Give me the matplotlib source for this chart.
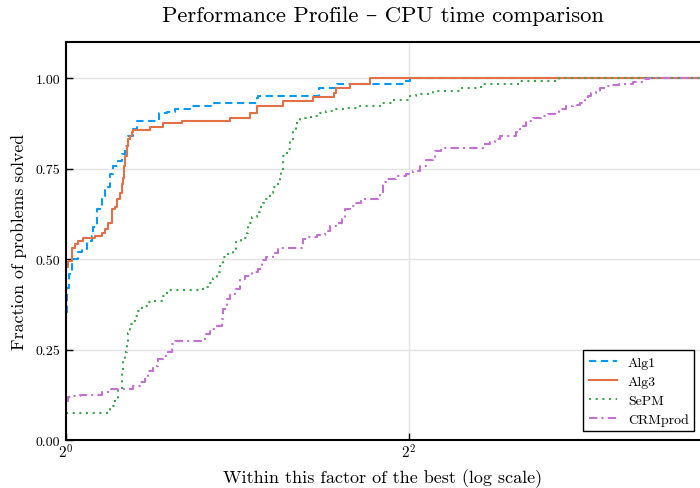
import matplotlib
matplotlib.use("Agg")
import matplotlib.pyplot as plt

plt.rcParams['font.family'] = ['cmr10', 'DejaVu Serif']
plt.rcParams['mathtext.fontset'] = 'cm'
plt.rcParams['axes.formatter.use_mathtext'] = True
plt.rcParams['axes.unicode_minus'] = False

# log2 of performance ratio (x) and fraction of problems solved (y)
alg1_x = [0.0, 0.008, 0.016, 0.033, 0.070, 0.092, 0.120, 0.150, 0.159, 0.178, 0.208, 0.227,
          0.257, 0.276, 0.305, 0.325, 0.344, 0.364, 0.393, 0.412, 0.540, 0.587, 0.636, 0.723,
          0.857, 1.114, 1.120, 1.475, 1.580, 1.977, 2.006]
alg1_y = [0.354, 0.420, 0.459, 0.500, 0.519, 0.527, 0.550, 0.565, 0.588, 0.638, 0.675, 0.699,
          0.735, 0.758, 0.772, 0.790, 0.813, 0.841, 0.859, 0.882, 0.905, 0.907, 0.916, 0.923,
          0.932, 0.945, 0.951, 0.974, 0.983, 0.993, 1.000]

alg3_x = [0.0, 0.013, 0.033, 0.052, 0.072, 0.101, 0.169, 0.208, 0.227, 0.247, 0.266, 0.286,
          0.296, 0.315, 0.325, 0.334, 0.338, 0.344, 0.354, 0.364, 0.374, 0.383, 0.393, 0.490,
          0.566, 0.676, 0.956, 1.073, 1.114, 1.266, 1.440, 1.563, 1.574, 1.656, 1.772]
alg3_y = [0.477, 0.495, 0.532, 0.541, 0.550, 0.557, 0.565, 0.573, 0.583, 0.601, 0.638, 0.643,
          0.666, 0.684, 0.707, 0.724, 0.758, 0.786, 0.813, 0.831, 0.841, 0.850, 0.857, 0.866,
          0.876, 0.882, 0.891, 0.905, 0.923, 0.937, 0.949, 0.960, 0.974, 0.983, 1.000]

sepm_x = [0.0, 0.257, 0.286, 0.305, 0.325, 0.334, 0.344, 0.354, 0.363, 0.373, 0.383, 0.402,
          0.422, 0.441, 0.471, 0.500, 0.558, 0.587, 0.595, 0.800, 0.830, 0.859, 0.879, 0.898,
          0.917, 0.946, 0.976, 0.995, 1.024, 1.054, 1.063, 1.083, 1.112, 1.131, 1.150, 1.170,
          1.190, 1.209, 1.229, 1.248, 1.254, 1.267, 1.287, 1.306, 1.325, 1.345, 1.364, 1.403,
          1.452, 1.481, 1.520, 1.578, 1.637, 1.714, 1.831, 1.907, 2.006, 2.045, 2.142, 2.307,
          2.424, 2.647, 2.880]
sepm_y = [0.076, 0.095, 0.113, 0.141, 0.187, 0.215, 0.242, 0.270, 0.297, 0.320, 0.330, 0.343,
          0.357, 0.371, 0.382, 0.385, 0.399, 0.415, 0.415, 0.424, 0.435, 0.449, 0.463, 0.481,
          0.507, 0.514, 0.528, 0.546, 0.557, 0.573, 0.601, 0.615, 0.629, 0.643, 0.656, 0.666,
          0.684, 0.698, 0.707, 0.730, 0.744, 0.786, 0.804, 0.831, 0.854, 0.877, 0.889, 0.892,
          0.896, 0.905, 0.908, 0.914, 0.917, 0.923, 0.932, 0.940, 0.951, 0.957, 0.965, 0.974,
          0.983, 0.991, 1.000]

crm_x = [0.0, 0.013, 0.043, 0.082, 0.208, 0.257, 0.392, 0.431, 0.461, 0.480, 0.509, 0.538,
         0.567, 0.597, 0.616, 0.636, 0.810, 0.840, 0.879, 0.908, 0.917, 0.937, 0.956, 0.985,
         1.015, 1.044, 1.083, 1.121, 1.141, 1.170, 1.209, 1.238, 1.257, 1.384, 1.413, 1.462,
         1.510, 1.539, 1.578, 1.608, 1.627, 1.656, 1.685, 1.724, 1.831, 1.851, 1.870, 1.928,
         1.987, 2.025, 2.064, 2.103, 2.142, 2.152, 2.191, 2.433, 2.472, 2.501, 2.531, 2.628,
         2.647, 2.667, 2.686, 2.725, 2.774, 2.812, 2.851, 2.880, 2.920, 2.958, 2.997, 3.026,
         3.046, 3.065, 3.094, 3.114, 3.152, 3.172, 3.230, 3.308, 3.376, 3.405]
crm_y = [0.109, 0.118, 0.122, 0.124, 0.133, 0.141, 0.150, 0.159, 0.173, 0.191, 0.205, 0.224,
         0.233, 0.242, 0.265, 0.274, 0.293, 0.307, 0.316, 0.334, 0.362, 0.390, 0.403, 0.417,
         0.445, 0.454, 0.463, 0.472, 0.498, 0.505, 0.518, 0.528, 0.532, 0.555, 0.560, 0.566,
         0.578, 0.592, 0.601, 0.610, 0.638, 0.647, 0.656, 0.666, 0.680, 0.712, 0.721, 0.730,
         0.735, 0.744, 0.758, 0.774, 0.783, 0.800, 0.807, 0.818, 0.824, 0.831, 0.841, 0.850,
         0.859, 0.868, 0.882, 0.891, 0.896, 0.900, 0.907, 0.916, 0.922, 0.925, 0.932, 0.942,
         0.951, 0.958, 0.962, 0.974, 0.978, 0.980, 0.983, 0.990, 0.997, 1.000]

labels = ["Alg1", "Alg3", "SePM", "CRMprod"]
colors = ["#009AF9", "#E26F46", "#3DA44D", "#C271D2"]
styles = [(0, (3.5, 2.2)), "-", (0, (1, 2.2)), (0, (4, 2, 1, 2))]
x_max = 3.7
xtick_pos = [0, 2]
xtick_labels = [r"$2^{0}$", r"$2^{2}$"]
ytick_pos = [0.0, 0.25, 0.5, 0.75, 1.0]
ytick_labels = ["0.00", "0.25", "0.50", "0.75", "1.00"]

fig = plt.figure(figsize=(7.0, 4.89), dpi=100)
ax = fig.add_axes([66/700, 48/489, 634/700, 398/489])

series = [(alg1_x, alg1_y), (alg3_x, alg3_y), (sepm_x, sepm_y), (crm_x, crm_y)]
for (xs, ys), lab, c, ls in zip(series, labels, colors, styles):
    xx = list(xs) + [x_max]
    yy = list(ys) + [ys[-1]]
    ax.plot(xx, yy, drawstyle="steps-post", color=c, linestyle=ls, lw=1.5, label=lab)

ax.set_xlim(0, x_max)
ax.set_ylim(0, 1.1)
ax.set_xticks(xtick_pos)
ax.set_xticklabels(xtick_labels, fontsize=11)
ax.set_yticks(ytick_pos)
ax.set_yticklabels(ytick_labels, fontsize=10)
ax.grid(True, color="#e3e3e3", lw=1.0)
ax.set_axisbelow(True)
ax.tick_params(direction="in", length=5, width=1, colors="black", pad=4)
ax.tick_params(axis="x", pad=2)
for s in ["left", "bottom", "top"]:
    ax.spines[s].set_linewidth(1.5)
    ax.spines[s].set_color("black")
ax.spines["right"].set_visible(False)

ax.set_title("Performance Profile \u2013 CPU time comparison", fontsize=16.3, pad=15)
ax.set_xlabel("Within this factor of the best (log scale)", fontsize=13, labelpad=5)
ax.set_ylabel("Fraction of problems solved", fontsize=12.8, labelpad=6)

leg = ax.legend(loc="lower right", bbox_to_anchor=(0.991, 0.022), borderaxespad=0,
                fontsize=10, fancybox=False, edgecolor="black", framealpha=1,
                handlelength=2.0, labelspacing=0.45, borderpad=0.4)
leg.get_frame().set_linewidth(1.0)

fig.savefig("out.png", dpi=100)
